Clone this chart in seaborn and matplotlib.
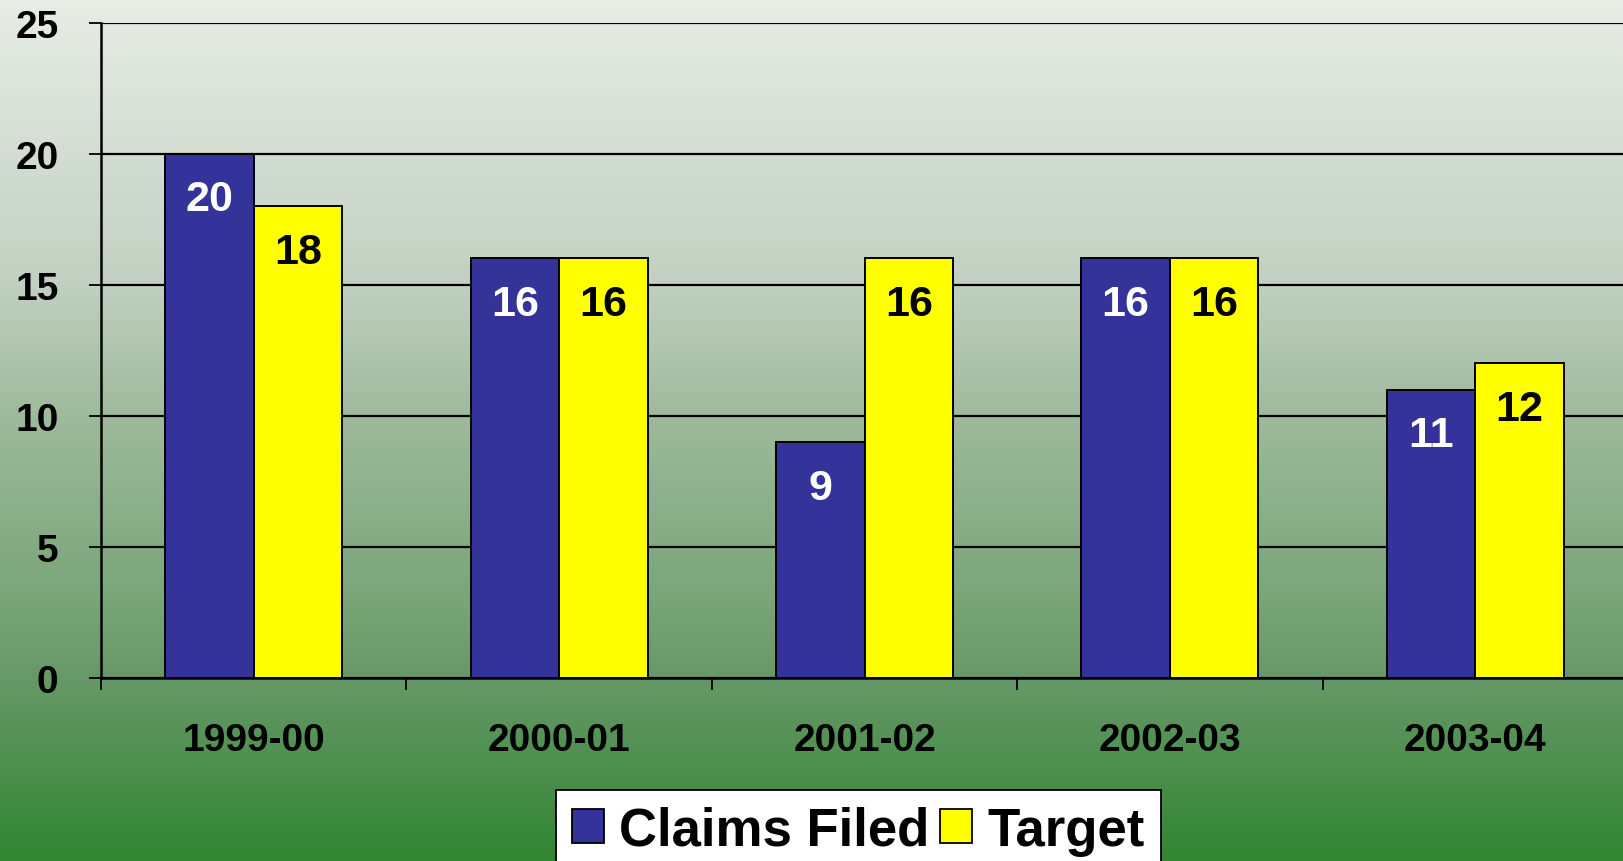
import numpy as np
import pandas as pd
import matplotlib
matplotlib.use("Agg")
import matplotlib.pyplot as plt
import seaborn as sns

# ---- data ----
periods = ["1999-00", "2000-01", "2001-02", "2002-03", "2003-04"]
claims_filed = [20, 16, 9, 16, 11]
target = [18, 16, 16, 16, 12]
series_names = ["Claims Filed", "Target"]
y_ticks = [0, 5, 10, 15, 20, 25]

BLUE = "#333399"
YELLOW = "#FFFF00"

df = pd.DataFrame({
    "period": periods * 2,
    "series": [series_names[0]] * len(periods) + [series_names[1]] * len(periods),
    "value": claims_filed + target,
})

sns.set_theme(style="white")
plt.rcParams["font.family"] = ["Liberation Sans", "DejaVu Sans"]
plt.rcParams["font.weight"] = "bold"

W, H = 1623, 862
fig = plt.figure(figsize=(W / 100, H / 100), dpi=100)

# gradient background over the whole figure
bg = fig.add_axes([0, 0, 1, 1], zorder=-10)
ys = np.arange(H)
stops_y = [0, 285, 420, 600, 680, 862]
stops_c = np.array([
    [232, 237, 230],
    [193, 208, 193],
    [157, 185, 155],
    [121, 165, 121],
    [103, 152, 103],
    [48, 134, 50],
]) / 255.0
grad = np.stack([np.interp(ys, stops_y, stops_c[:, k]) for k in range(3)], axis=1)
img = np.repeat(grad[:, None, :], 8, axis=1)
bg.imshow(img, aspect="auto", extent=[0, 1, 0, 1], origin="upper")
bg.set_axis_off()

ax = fig.add_axes([101 / W, (H - 679) / H, 1527 / W, (679 - 23.5) / H])
ax.set_facecolor("none")

sns.barplot(data=df, x="period", y="value", hue="series",
            palette=[BLUE, YELLOW], width=0.58, edgecolor="black",
            linewidth=1.4, saturation=1, ax=ax, zorder=3)

handles, labels = ax.get_legend_handles_labels()
if ax.get_legend() is not None:
    ax.get_legend().remove()

ax.set_ylim(0, 25)
ax.set_xlim(-0.5, len(periods) - 0.5)
ax.set_yticks(y_ticks)
ax.set_xlabel("")
ax.set_ylabel("")

ax.yaxis.grid(True, color="black", linewidth=1.6, zorder=0)
ax.set_axisbelow(True)
for s in ["top", "right"]:
    ax.spines[s].set_visible(False)
for s in ["left", "bottom"]:
    ax.spines[s].set_color("black")
    ax.spines[s].set_linewidth(1.8)
    ax.spines[s].set_zorder(4)

ax.tick_params(axis="y", direction="out", length=8.6, width=1.3, color="black",
               left=True, pad=22, labelsize=28, labelcolor="black")
ax.tick_params(axis="x", which="major", length=0, pad=31.5, labelsize=28,
               labelcolor="black")
ax.set_xticks(np.arange(-0.5, len(periods), 1.0), minor=True)
ax.tick_params(axis="x", which="minor", direction="out", length=8.6, width=1.3,
               color="black", bottom=True)
for t in ax.get_xticklabels() + ax.get_yticklabels():
    t.set_fontweight("bold")

# value labels inside bars
label_colors = ["white", "black"]
for cont, col in zip(ax.containers, label_colors):
    for rect, v in zip(cont.patches, cont.datavalues):
        ax.annotate(f"{int(v)}", (rect.get_x() + rect.get_width() / 2, rect.get_height()),
                    xytext=(0, -33), textcoords="offset points",
                    ha="center", va="center", fontsize=31, fontweight="bold",
                    color=col, zorder=5)

leg = fig.legend(handles, labels, loc="upper left",
                 bbox_to_anchor=(556 / W, 1 - 791 / H), ncol=2,
                 fontsize=38, frameon=True, fancybox=False,
                 handlelength=0.6, handleheight=0.6, handletextpad=0.3,
                 columnspacing=0.2, borderpad=0.3, borderaxespad=0)
leg.get_frame().set_facecolor("white")
leg.get_frame().set_edgecolor("black")
leg.get_frame().set_linewidth(1.3)
leg.get_frame().set_alpha(1)
for t in leg.get_texts():
    t.set_fontweight("bold")
    t.set_color("black")
for h in leg.legend_handles:
    h.set_edgecolor("black")
    h.set_linewidth(1.3)

fig.savefig("out.png", dpi=100)
